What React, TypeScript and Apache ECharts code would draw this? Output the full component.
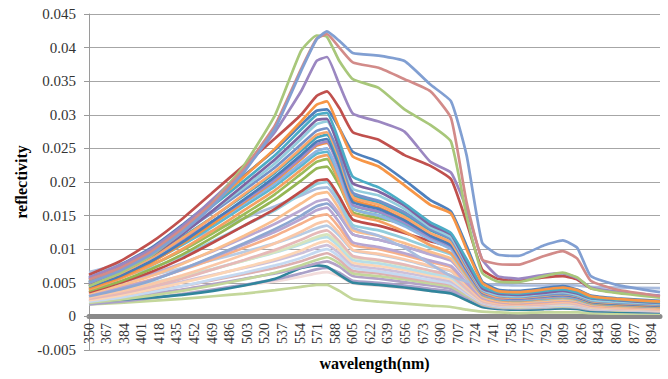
import React, { useEffect, useRef } from "react";
import * as echarts from "echarts";

// sample wavelengths (nm)
const wavelengths = [350, 380, 410, 440, 470, 500, 530, 555, 570, 580, 592, 605, 630, 655, 680, 700, 715, 730, 745, 765, 790, 808, 822, 835, 860, 902];
// tick labels of the wavelength axis
const tickLabels = ["350","367","384","401","418","435","452","469","486","503","520","537","554","571","588","605","622","639","656","673","690","707","724","741","758","775","792","809","826","843","860","877","894"];
// reflectivity values are given in units of 0.001
const UNIT = 0.001;
const s01 = [5.0, 6.8, 9.2, 12.5, 16.5, 21.5, 28.0, 36.5, 41.2, 42.4, 41.0, 39.2, 38.8, 38.0, 34.5, 32.0, 24.0, 11.0, 9.2, 9.0, 10.6, 11.3, 10.2, 6.0, 4.7, 3.6];
const s02 = [5.5, 7.2, 9.6, 13.0, 17.0, 22.0, 28.5, 36.8, 41.3, 42.0, 40.0, 37.8, 37.0, 35.3, 33.5, 29.5, 17.0, 8.5, 7.8, 7.7, 9.0, 9.7, 8.6, 5.3, 4.0, 3.0];
const s03 = [4.5, 6.5, 9.0, 12.6, 17.0, 22.5, 30.0, 39.5, 41.8, 41.6, 38.0, 35.3, 34.0, 30.8, 28.5, 26.0, 15.0, 6.5, 5.2, 5.1, 6.0, 6.5, 5.8, 4.2, 3.5, 2.8];
const s04 = [5.8, 7.6, 10.0, 13.4, 17.5, 22.0, 27.5, 33.5, 38.0, 38.6, 34.5, 30.2, 29.0, 27.5, 23.0, 21.4, 16.0, 8.5, 6.0, 5.6, 6.2, 6.4, 5.7, 4.3, 3.7, 3.1];
const s05 = [6.2, 8.2, 11.0, 14.5, 18.5, 22.5, 26.5, 30.0, 32.8, 33.5, 31.0, 27.4, 26.3, 24.0, 22.4, 20.4, 14.0, 7.0, 5.6, 5.3, 5.8, 6.0, 5.5, 4.2, 3.6, 3.0];
const s06 = [5.0, 7.0, 9.6, 13.0, 16.8, 20.8, 25.0, 29.0, 31.5, 32.0, 28.0, 23.8, 22.3, 19.5, 16.6, 15.3, 10.0, 5.0, 3.8, 3.6, 4.0, 4.3, 3.9, 3.0, 2.6, 2.2];
const s07 = [5.6, 7.6, 10.2, 13.6, 17.3, 21.0, 24.8, 28.5, 30.6, 30.8, 28.0, 24.5, 23.0, 20.3, 17.3, 15.6, 10.5, 5.2, 4.0, 3.8, 4.2, 4.5, 4.0, 3.1, 2.7, 2.3];
const s08 = [5.2, 7.2, 9.8, 13.0, 16.5, 20.2, 24.0, 27.8, 30.0, 30.3, 26.0, 20.8, 19.2, 16.8, 14.0, 12.4, 8.5, 4.5, 3.6, 3.4, 3.8, 4.0, 3.6, 2.8, 2.5, 2.1];
const s09 = [4.8, 6.6, 9.0, 12.2, 15.8, 19.6, 23.4, 27.0, 29.2, 29.4, 25.0, 19.8, 18.6, 16.5, 13.6, 12.2, 8.0, 4.2, 3.4, 3.2, 3.5, 3.8, 3.4, 2.7, 2.4, 2.0];
const s10 = [6.0, 7.6, 9.8, 12.6, 15.8, 19.2, 22.8, 26.4, 28.6, 29.0, 25.5, 19.0, 18.0, 16.0, 13.3, 11.8, 7.8, 4.0, 3.2, 3.0, 3.4, 3.6, 3.2, 2.5, 2.2, 1.9];
const s11 = [5.4, 7.2, 9.5, 12.4, 15.5, 18.8, 22.2, 25.6, 27.6, 28.0, 24.0, 18.4, 17.2, 15.5, 13.0, 11.5, 7.5, 3.9, 3.1, 2.9, 3.2, 3.4, 3.1, 2.4, 2.1, 1.8];
const s12 = [4.6, 6.4, 8.7, 11.6, 14.8, 18.2, 21.6, 25.0, 27.0, 27.4, 23.5, 17.8, 16.6, 14.8, 12.4, 11.0, 7.2, 3.7, 2.9, 2.8, 3.1, 3.3, 3.0, 2.3, 2.0, 1.7];
const s13 = [5.0, 6.8, 9.0, 11.8, 14.8, 18.0, 21.4, 24.6, 26.6, 27.0, 23.0, 18.0, 17.0, 15.2, 12.8, 11.4, 7.4, 3.8, 3.0, 2.8, 3.1, 3.3, 3.0, 2.3, 2.0, 1.7];
const s14 = [4.4, 6.0, 8.2, 11.0, 14.2, 17.4, 20.8, 24.0, 26.0, 26.4, 22.4, 17.0, 16.0, 14.3, 12.0, 10.6, 7.0, 3.6, 2.9, 2.7, 3.0, 3.2, 2.9, 2.2, 1.9, 1.6];
const s15 = [5.8, 7.2, 9.0, 11.4, 14.2, 17.2, 20.4, 23.6, 25.6, 26.0, 22.0, 16.6, 15.6, 14.0, 11.8, 10.4, 6.8, 3.5, 2.8, 2.6, 2.9, 3.1, 2.8, 2.2, 1.9, 1.6];
const s16 = [4.2, 5.8, 8.0, 10.8, 13.8, 17.0, 20.2, 23.4, 25.4, 25.8, 22.5, 17.4, 16.2, 14.4, 12.0, 10.8, 7.0, 3.5, 2.8, 2.6, 2.9, 3.1, 2.8, 2.1, 1.8, 1.5];
const s17 = [5.0, 6.6, 8.6, 11.0, 13.8, 16.8, 19.8, 22.8, 24.6, 25.0, 21.0, 16.0, 15.0, 13.4, 11.4, 10.0, 6.6, 3.4, 2.7, 2.5, 2.8, 3.0, 2.7, 2.1, 1.8, 1.5];
const s18 = [4.6, 6.2, 8.2, 10.6, 13.4, 16.4, 19.4, 22.4, 24.2, 24.5, 21.0, 16.5, 15.5, 13.8, 11.6, 10.2, 6.6, 3.3, 2.6, 2.4, 2.7, 2.9, 2.6, 2.0, 1.7, 1.4];
const s19 = [4.0, 5.6, 7.6, 10.0, 12.8, 15.8, 18.8, 21.8, 23.6, 24.0, 20.0, 15.2, 14.2, 12.6, 10.6, 9.4, 6.2, 3.2, 2.5, 2.3, 2.6, 2.8, 2.5, 1.9, 1.6, 1.4];
const s20 = [4.4, 5.8, 7.6, 9.8, 12.4, 15.2, 18.2, 21.2, 23.0, 23.4, 20.0, 16.0, 15.0, 13.6, 11.8, 10.6, 7.0, 3.6, 2.8, 2.6, 2.9, 3.1, 2.8, 2.2, 1.9, 1.6];
const s21 = [3.8, 5.2, 7.0, 9.2, 11.8, 14.6, 17.4, 20.2, 22.0, 22.3, 19.5, 15.5, 14.6, 13.8, 13.0, 11.8, 7.8, 4.0, 3.1, 2.9, 3.2, 3.4, 3.1, 2.4, 2.1, 1.8];
const s22 = [3.6, 5.0, 6.6, 8.6, 11.0, 13.5, 16.0, 18.6, 20.2, 20.4, 17.8, 14.4, 13.5, 12.4, 11.2, 10.2, 6.6, 3.4, 2.6, 2.4, 2.7, 2.9, 2.6, 2.0, 1.7, 1.5];
const s23 = [4.8, 5.9, 7.2, 9.0, 11.2, 13.5, 15.8, 18.2, 19.7, 20.0, 17.2, 13.6, 12.8, 11.6, 10.2, 9.2, 6.0, 3.2, 2.5, 2.3, 2.5, 2.7, 2.4, 1.9, 1.6, 1.4];
const s24 = [6.6, 7.8, 9.4, 11.0, 12.8, 14.6, 16.4, 18.0, 19.0, 19.2, 16.8, 13.2, 12.0, 10.2, 7.8, 6.0, 5.2, 4.8, 4.7, 4.6, 4.6, 4.7, 4.6, 4.4, 4.3, 4.2];
const s25 = [3.4, 4.6, 6.0, 7.8, 9.8, 12.0, 14.4, 16.8, 18.2, 18.5, 16.0, 12.8, 12.0, 10.9, 9.6, 8.6, 5.8, 3.0, 2.3, 2.1, 2.3, 2.5, 2.3, 1.8, 1.5, 1.3];
const s26 = [4.0, 5.0, 6.3, 7.9, 9.7, 11.7, 13.8, 15.8, 17.1, 17.4, 15.2, 12.2, 11.4, 10.4, 9.2, 8.3, 5.6, 3.0, 2.3, 2.1, 2.3, 2.5, 2.3, 1.8, 1.5, 1.3];
const s27 = [3.0, 4.0, 5.3, 7.0, 8.9, 10.9, 13.0, 15.0, 16.4, 16.8, 15.0, 12.2, 11.4, 10.4, 9.3, 8.4, 5.8, 3.2, 2.5, 2.3, 2.5, 2.7, 2.5, 1.9, 1.6, 1.4];
const s28 = [3.2, 4.2, 5.4, 7.0, 8.8, 10.7, 12.6, 14.5, 15.8, 16.2, 14.0, 11.0, 10.3, 9.4, 8.3, 7.5, 5.0, 2.8, 2.2, 2.0, 2.2, 2.4, 2.2, 1.7, 1.5, 1.3];
const s29 = [3.5, 4.4, 5.5, 6.9, 8.5, 10.2, 12.0, 13.8, 14.9, 15.2, 13.2, 10.6, 10.0, 9.1, 8.1, 7.3, 4.9, 2.7, 2.1, 1.9, 2.1, 2.3, 2.1, 1.6, 1.4, 1.2];
const s30 = [2.8, 3.7, 4.8, 6.1, 7.6, 9.2, 10.9, 12.6, 13.8, 14.2, 12.4, 9.9, 9.3, 8.5, 7.5, 6.8, 4.6, 2.5, 2.0, 1.8, 2.0, 2.2, 2.0, 1.5, 1.3, 1.1];
const s31 = [4.5, 5.2, 6.1, 7.2, 8.4, 9.6, 10.9, 12.2, 13.1, 13.5, 12.0, 9.8, 9.2, 8.4, 7.4, 6.7, 4.6, 2.6, 2.1, 1.9, 2.1, 2.3, 2.1, 1.6, 1.4, 1.2];
const s32 = [2.6, 3.4, 4.4, 5.6, 7.0, 8.4, 9.9, 11.4, 12.4, 12.8, 11.2, 9.0, 8.4, 7.7, 6.8, 6.1, 4.1, 2.3, 1.8, 1.7, 1.8, 2.0, 1.8, 1.4, 1.2, 1.0];
const s33 = [3.0, 3.8, 4.7, 5.8, 7.0, 8.3, 9.6, 10.9, 11.8, 12.2, 10.8, 8.8, 8.3, 7.6, 6.8, 6.1, 4.2, 2.4, 1.9, 1.7, 1.9, 2.0, 1.9, 1.4, 1.2, 1.0];
const s34 = [3.4, 4.1, 5.0, 6.0, 7.1, 8.3, 9.5, 10.7, 11.5, 11.8, 10.4, 8.4, 7.9, 7.2, 6.4, 5.8, 4.0, 2.3, 1.8, 1.6, 1.8, 1.9, 1.8, 1.4, 1.2, 1.0];
const s35 = [2.4, 3.1, 4.0, 5.0, 6.1, 7.3, 8.5, 9.8, 10.8, 11.2, 9.9, 8.0, 7.5, 6.9, 6.1, 5.5, 3.8, 2.2, 1.7, 1.5, 1.7, 1.8, 1.7, 1.3, 1.1, 0.9];
const s36 = [2.9, 3.5, 4.3, 5.2, 6.2, 7.2, 8.3, 9.4, 10.2, 10.6, 9.4, 7.6, 7.1, 6.5, 5.8, 5.2, 3.6, 2.1, 1.6, 1.5, 1.6, 1.7, 1.6, 1.2, 1.0, 0.9];
const s37 = [2.2, 2.8, 3.6, 4.5, 5.5, 6.5, 7.6, 8.7, 9.6, 10.0, 8.9, 7.2, 6.7, 6.1, 5.4, 4.9, 3.4, 2.0, 1.5, 1.4, 1.5, 1.6, 1.5, 1.1, 1.0, 0.8];
const s38 = [2.6, 3.1, 3.8, 4.5, 5.4, 6.3, 7.2, 8.2, 9.0, 9.4, 8.4, 6.8, 6.4, 5.8, 5.2, 4.7, 3.3, 1.9, 1.5, 1.4, 1.5, 1.6, 1.5, 1.1, 1.0, 0.8];
const s39 = [2.0, 2.5, 3.1, 3.8, 4.6, 5.5, 6.5, 7.6, 8.4, 8.8, 7.9, 6.4, 6.0, 5.5, 4.9, 4.4, 3.1, 1.8, 1.4, 1.3, 1.4, 1.5, 1.4, 1.1, 0.9, 0.8];
const s40 = [2.3, 2.8, 3.4, 4.0, 4.8, 5.6, 6.4, 7.3, 7.9, 8.2, 7.4, 6.0, 5.6, 5.1, 4.6, 4.1, 2.9, 1.7, 1.3, 1.2, 1.3, 1.4, 1.3, 1.0, 0.9, 0.7];
const s41 = [2.2, 2.5, 2.8, 3.2, 3.8, 4.6, 5.6, 7.2, 7.6, 7.4, 6.2, 5.0, 4.7, 4.3, 3.8, 3.4, 2.4, 1.4, 1.1, 1.0, 1.1, 1.2, 1.1, 0.8, 0.7, 0.6];
const s42 = [1.8, 2.2, 2.7, 3.3, 4.0, 4.7, 5.5, 6.4, 7.0, 7.2, 6.5, 5.3, 5.0, 4.6, 4.1, 3.7, 2.6, 1.5, 1.2, 1.1, 1.2, 1.3, 1.2, 0.9, 0.8, 0.7];
const s43 = [2.0, 2.4, 2.9, 3.4, 4.0, 4.6, 5.2, 5.9, 6.4, 6.6, 6.0, 4.9, 4.6, 4.2, 3.8, 3.4, 2.4, 1.4, 1.1, 1.0, 1.1, 1.2, 1.1, 0.8, 0.7, 0.6];
const s44 = [1.8, 2.0, 2.3, 2.6, 3.0, 3.4, 3.9, 4.4, 4.7, 4.7, 3.8, 2.6, 2.2, 1.9, 1.6, 1.4, 1.0, 0.7, 0.6, 0.5, 0.6, 0.6, 0.6, 0.5, 0.4, 0.4];

const seriesValues = [s01, s02, s03, s04, s05, s06, s07, s08, s09, s10, s11, s12, s13, s14, s15, s16, s17, s18, s19, s20, s21, s22, s23, s24, s25, s26, s27, s28, s29, s30, s31, s32, s33, s34, s35, s36, s37, s38, s39, s40, s41, s42, s43, s44];
const seriesColors = ["#819FD2", "#D28B89", "#A8C77A", "#9B87C1", "#C0504D", "#F79646", "#4F81BD", "#4BACC6", "#8064A2", "#93CDDD", "#7592C9", "#F9A66C", "#45A5BF", "#4A7DBA", "#A38BC6", "#F5913F", "#8DB4E2", "#5DB7D0", "#F4A062", "#9BBB59", "#95B654", "#BE4B48", "#92CDDC", "#A9BCDE", "#FABF8F", "#B9A9D3", "#8EA7D1", "#B7A6D2", "#F6B08A", "#FAC8A8", "#B8CCE4", "#E6B9B8", "#D7E4BD", "#B7DEE8", "#FCD5B5", "#CCC0DA", "#C5D9F1", "#DDB0B0", "#C3D69B", "#B3A2C7", "#31859C", "#A9A0C8", "#F2DCDB", "#C4D79B"];

const X0 = 350;
const STEP = 17;
const XMAX = 902;
const SERIF = "'Liberation Serif', 'Times New Roman', 'DejaVu Serif', serif";

export default function App() {
  const ref = useRef<HTMLDivElement>(null);
  useEffect(() => {
    if (!ref.current) return;
    const chart = echarts.init(ref.current, undefined, { renderer: "svg" });
    const series = seriesValues
      .map((vals, k) => ({
        type: "line",
        name: "S" + (k + 1),
        data: vals.map((v, i) => [wavelengths[i] - X0, v * UNIT]),
        showSymbol: false,
        symbol: "none",
        smooth: 0.15,
        lineStyle: { width: 2.7, color: seriesColors[k] },
        itemStyle: { color: seriesColors[k] },
        silent: true,
      }))
      .reverse();
    chart.setOption({
      animation: false,
      backgroundColor: "#ffffff",
      textStyle: { fontFamily: SERIF },
      grid: { left: 89, right: 8, top: 14, bottom: 29, containLabel: false, outerBoundsMode: "none" },
      xAxis: {
        type: "value",
        min: 0,
        max: XMAX - X0,
        interval: STEP,
        axisLine: { onZero: true, lineStyle: { color: "#8a8a8a", width: 5 } },
        axisTick: { show: false },
        splitLine: { show: false },
        axisLabel: {
          rotate: 90,
          showMaxLabel: false,
          margin: -27,
          fontFamily: SERIF,
          fontSize: 14,
          color: "#333",
          formatter: (v: number) => tickLabels[Math.round(v / STEP)] ?? "",
        },
        name: "wavelength(nm)",
        nameLocation: "middle",
        nameGap: 5,
        nameMoveOverlap: false,
        nameTextStyle: { fontFamily: SERIF, fontSize: 16, fontWeight: "bold", color: "#000", verticalAlign: "top" },
      },
      yAxis: {
        type: "value",
        min: -0.005,
        max: 0.045,
        interval: 0.005,
        axisLine: { show: true, lineStyle: { color: "#9a9a9a", width: 1 } },
        axisTick: { show: true, length: 5, lineStyle: { color: "#9a9a9a" } },
        splitLine: { show: true, lineStyle: { color: "#a6a6a6", width: 1 } },
        axisLabel: {
          margin: 13,
          fontFamily: SERIF,
          fontSize: 15,
          color: "#333",
          formatter: (v: number) => String(+v.toFixed(3)),
        },
        name: "reflectivity",
        nameLocation: "middle",
        nameGap: 60,
        nameMoveOverlap: false,
        nameTextStyle: { fontFamily: SERIF, fontSize: 16, fontWeight: "bold", color: "#000" },
      },
      series,
    });
    return () => chart.dispose();
  }, []);
  return <div ref={ref} style={{ position: "absolute", left: 0, top: 0, width: 668, height: 379 }} />;
}
